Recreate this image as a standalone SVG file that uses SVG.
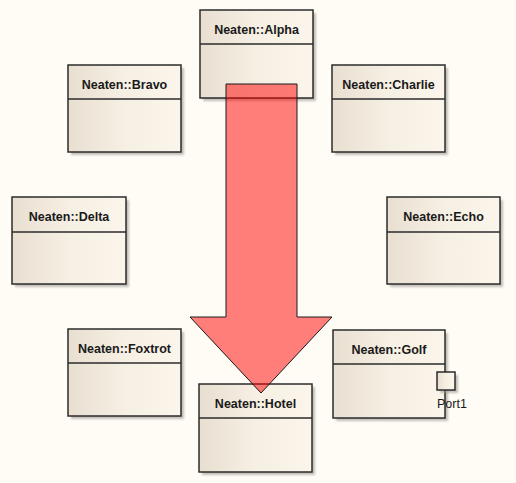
<svg xmlns="http://www.w3.org/2000/svg" width="516" height="483" viewBox="0 0 516 483">
<defs>
<linearGradient id="g" x1="0" y1="0" x2="1" y2="0">
<stop offset="0" stop-color="#E8DFD1"/>
<stop offset="0.5" stop-color="#F6EFE3"/>
<stop offset="1" stop-color="#FBF5EB"/>
</linearGradient>
<filter id="sh" x="-10%" y="-10%" width="130%" height="130%">
<feGaussianBlur stdDeviation="1.2"/>
</filter>
</defs>
<style>
.shadow{fill:#9a968f;opacity:0.6;filter:url(#sh)}
.box{fill:url(#g);stroke:#2b2b2b;stroke-width:1.5}
.div{stroke:#2b2b2b;stroke-width:1.5}
.t{font-family:"Liberation Sans",Arial,sans-serif;font-weight:bold;font-size:12.5px;fill:#1a1a1a;text-anchor:middle}
.pl{font-family:"Liberation Sans",Arial,sans-serif;font-size:12.5px;fill:#1a1a1a}
</style>
<rect x="0" y="0" width="516" height="483" fill="#FEFCF5"/>
<g id="Alpha">
<rect class="shadow" x="203" y="13" width="113" height="88"/>
<rect class="box" x="200" y="10" width="113" height="88"/>
<line class="div" x1="200" y1="44" x2="313" y2="44"/>
<text class="t" x="256.5" y="34">Neaten::Alpha</text>
</g>
<g id="Bravo">
<rect class="shadow" x="71" y="68" width="113" height="87"/>
<rect class="box" x="68" y="65" width="113" height="87"/>
<line class="div" x1="68" y1="99" x2="181" y2="99"/>
<text class="t" x="124.5" y="89">Neaten::Bravo</text>
</g>
<g id="Charlie">
<rect class="shadow" x="335" y="68" width="113" height="87"/>
<rect class="box" x="332" y="65" width="113" height="87"/>
<line class="div" x1="332" y1="99" x2="445" y2="99"/>
<text class="t" x="388.5" y="89">Neaten::Charlie</text>
</g>
<g id="Delta">
<rect class="shadow" x="15" y="200" width="114" height="87"/>
<rect class="box" x="12" y="197" width="114" height="87"/>
<line class="div" x1="12" y1="232" x2="126" y2="232"/>
<text class="t" x="69" y="221">Neaten::Delta</text>
</g>
<g id="Echo">
<rect class="shadow" x="390" y="200" width="113" height="87"/>
<rect class="box" x="387" y="197" width="113" height="87"/>
<line class="div" x1="387" y1="232" x2="500" y2="232"/>
<text class="t" x="443.5" y="221">Neaten::Echo</text>
</g>
<g id="Foxtrot">
<rect class="shadow" x="71" y="332" width="113" height="87"/>
<rect class="box" x="68" y="329" width="113" height="87"/>
<line class="div" x1="68" y1="363" x2="181" y2="363"/>
<text class="t" x="124.5" y="353">Neaten::Foxtrot</text>
</g>
<g id="Golf">
<rect class="shadow" x="336" y="333" width="112" height="88"/>
<rect class="box" x="333" y="330" width="112" height="88"/>
<line class="div" x1="333" y1="364" x2="445" y2="364"/>
<text class="t" x="389" y="354">Neaten::Golf</text>
<g id="Port1">
<rect class="shadow" x="440" y="375" width="18" height="18"/>
<rect class="box" x="437" y="372" width="18" height="18"/>
<text class="pl" x="437" y="408">Port1</text>
</g>
</g>
<g id="Hotel">
<rect class="shadow" x="202" y="387" width="113" height="88"/>
<rect class="box" x="199" y="384" width="113" height="88"/>
<line class="div" x1="199" y1="418" x2="312" y2="418"/>
<text class="t" x="255.5" y="408">Neaten::Hotel</text>
</g>
<g id="connectors">
<polygon points="226,84 297,84 297,317 332,317 261,393 190,317 226,317" fill="#FF0000" fill-opacity="0.5" stroke="#1a1a1a" stroke-width="1"/>
</g>
</svg>
